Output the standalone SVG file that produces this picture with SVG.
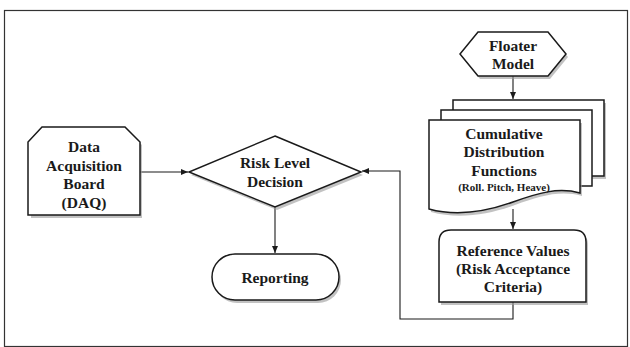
<svg xmlns="http://www.w3.org/2000/svg" width="630" height="347" viewBox="0 0 630 347">
<style>
.n{fill:#fff;stroke:#1a1a1a;stroke-width:1.5}
.sh{fill:#9a9a9a;stroke:none;opacity:.6}
.t{font-family:"Liberation Serif","Times New Roman",serif;font-weight:bold;font-size:15.5px;fill:#1a1a1a;text-anchor:middle}
.s{font-size:11px}
.c{fill:none;stroke:#1a1a1a;stroke-width:1.1}
</style>
<defs>
<marker id="a" markerWidth="8" markerHeight="8" refX="7" refY="4" orient="auto" markerUnits="userSpaceOnUse">
<path d="M0,1 L7,4 L0,7 Z" fill="#1a1a1a"/>
</marker>
</defs>
<rect x="4.5" y="10.5" width="623" height="336" fill="#fff" stroke="#333" stroke-width="1.2"/>
<g id="connectors">
<path class="c" d="M140,172 H188" marker-end="url(#a)"/>
<path class="c" d="M275,207 V253" marker-end="url(#a)"/>
<path class="c" d="M513,76 V99" marker-end="url(#a)"/>
<path class="c" d="M513,209 V229" marker-end="url(#a)"/>
<path class="c" d="M513,302 V319 H400 V171 H362" marker-end="url(#a)"/>
</g>
<g id="daq">
<path class="sh" d="M44,130 H127 L142,145 V218 H31 V145 Z"/>
<path class="n" d="M42,127 H125 L140,142 V215 H28 V142 Z"/>
<text class="t" x="84" y="152">Data</text>
<text class="t" x="84" y="171">Acquisition</text>
<text class="t" x="84" y="189">Board</text>
<text class="t" x="84" y="208">(DAQ)</text>
</g>
<g id="decision">
<path class="sh" d="M277,139 L363,175 L277,210 L191,175 Z"/>
<path class="n" d="M275,136 L361,172 L275,207 L189,172 Z"/>
<text class="t" x="275" y="168">Risk Level</text>
<text class="t" x="275" y="187">Decision</text>
</g>
<g id="reporting">
<rect class="sh" x="214" y="257" width="127" height="46" rx="23"/>
<rect class="n" x="212" y="254" width="127" height="46" rx="23"/>
<text class="t" x="275" y="283">Reporting</text>
</g>
<g id="floater">
<path class="sh" d="M480,35 H550 L568,57 L550,79 H480 L462,57 Z"/>
<path class="n" d="M478,32 H548 L566,54 L548,76 H478 L460,54 Z"/>
<text class="t" x="513" y="51">Floater</text>
<text class="t" x="513" y="69">Model</text>
</g>
<g id="cdf">
<path class="sh" d="M455,103 H606 V179 H455 Z"/>
<path class="n" d="M453,100 H604 V176 H453 Z"/>
<path class="n" d="M441,110 H592 V186 H441 Z"/>
<path class="sh" d="M431,123 H582 V196 C560,190 540,196 515,205 C490,214 460,220 431,212 Z"/>
<path class="n" d="M429,120 H580 V193 C558,187 538,193 513,202 C488,211 458,217 429,209 Z"/>
<text class="t" x="504" y="139">Cumulative</text>
<text class="t" x="504" y="157">Distribution</text>
<text class="t" x="504" y="176">Functions</text>
<text class="t s" x="504" y="191">(Roll. Pitch, Heave)</text>
</g>
<g id="reference">
<path class="sh" d="M453,233 H576 Q588,233 588,245 V305 H441 V245 Q441,233 453,233 Z"/>
<path class="n" d="M451,230 H574 Q586,230 586,242 V302 H439 V242 Q439,230 451,230 Z"/>
<text class="t" x="513" y="256">Reference Values</text>
<text class="t" x="513" y="274">(Risk Acceptance</text>
<text class="t" x="513" y="292">Criteria)</text>
</g>
</svg>
